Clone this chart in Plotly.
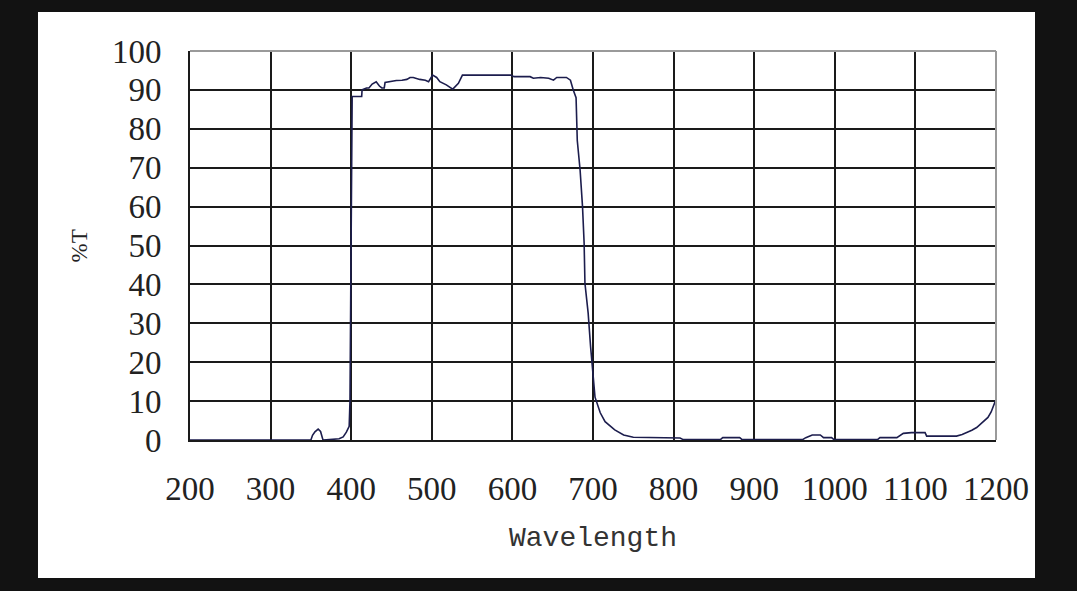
import plotly.graph_objects as go

# transmission curve
wavelength = [200, 350, 352, 355, 359, 362, 365, 385, 390, 394, 397.5, 398.5, 399.5, 400.5,
              401.2, 405, 413, 413.5, 419, 422, 426, 431, 435, 438, 441, 442, 449, 456, 463,
              469, 473, 477, 485, 492, 496, 499, 501, 506, 510, 518, 526, 533, 538, 598, 602,
              622, 626, 635, 645, 651, 655, 667, 672, 675.5, 679, 680.5, 684, 687, 689, 690,
              694, 697, 700, 702.5, 709, 715, 727, 738, 750, 780, 808, 812, 858, 861, 882,
              885, 960, 964, 972, 982, 986, 996, 999, 1053, 1056, 1077, 1080, 1085, 1095,
              1112, 1114, 1151, 1158, 1164, 1170, 1176, 1184, 1190, 1194, 1198, 1200]
transmittance = [0, 0, 1.2, 2.1, 2.8, 2.2, 0, 0.3, 0.8, 2.0, 3.5, 10, 40, 75,
                 88.3, 88.3, 88.3, 90, 90.5, 90.5, 91.5, 92.1, 91, 90.5, 90.5, 91.9, 92.2, 92.4, 92.5,
                 92.7, 93.2, 93.2, 92.7, 92.5, 92.1, 93.0, 93.8, 93.2, 92.1, 91.3, 90.2, 91.7, 93.8, 93.8, 93.4,
                 93.4, 93.0, 93.2, 93.0, 92.5, 93.2, 93.2, 92.5, 90, 88, 77, 69.4, 60, 50.6, 40.3,
                 32.6, 24, 17, 11, 7, 4.7, 2.6, 1.3, 0.7, 0.5, 0.5, 0.1, 0.1, 0.6, 0.6,
                 0.1, 0.1, 0.6, 1.3, 1.3, 0.6, 0.6, 0.1, 0.1, 0.6, 0.6, 1.0, 1.7, 1.9,
                 1.9, 1.0, 1.0, 1.4, 1.9, 2.5, 3.2, 4.6, 5.8, 7.2, 9.3, 10.5]

x_ticks = list(range(200, 1201, 100))
y_ticks = list(range(0, 101, 10))

tick_font = dict(family="Liberation Serif", size=33, color="#222222")

fig = go.Figure()
fig.add_trace(go.Scatter(
    x=wavelength, y=transmittance, mode="lines",
    line=dict(color="#1c1d4d", width=1.6),
    hoverinfo="x+y", showlegend=False,
))

# white card on the dark page
fig.add_shape(type="rect", xref="paper", yref="paper",
              x0=-0.1886, x1=1.0484, y0=-0.3548, y1=1.1003,
              fillcolor="white", line_width=0, layer="below")
# light grey top / right frame
fig.add_shape(type="line", xref="paper", yref="paper", x0=0, x1=1, y0=1, y1=1,
              line=dict(color="#9a9a9a", width=2), layer="above")
fig.add_shape(type="line", xref="paper", yref="paper", x0=1, x1=1, y0=0, y1=1,
              line=dict(color="#9a9a9a", width=2), layer="above")

fig.add_annotation(text="Wavelength", xref="paper", yref="paper", x=0.5, y=-0.252,
                   xanchor="center", yanchor="middle", showarrow=False,
                   font=dict(family="Liberation Mono", size=28, color="#333333"))
fig.add_annotation(text="%T", xref="paper", yref="paper", x=-0.1365, y=0.5, textangle=-90,
                   xanchor="center", yanchor="middle", showarrow=False,
                   font=dict(family="Liberation Serif", size=23, color="#222222"))

fig.update_xaxes(range=[200, 1200], tickvals=x_ticks, tickfont=tick_font,
                 showgrid=True, gridcolor="#1a1a1a", gridwidth=2,
                 showline=True, linecolor="#1a1a1a", linewidth=2,
                 zeroline=False, ticks="", ticklabelstandoff=18, fixedrange=True)
fig.update_yaxes(range=[0, 100], tickvals=y_ticks, tickfont=tick_font,
                 showgrid=True, gridcolor="#1a1a1a", gridwidth=2,
                 showline=True, linecolor="#1a1a1a", linewidth=2,
                 zeroline=False, ticks="", ticklabelstandoff=20, fixedrange=True)

fig.update_layout(
    width=1077, height=591,
    margin=dict(l=190, r=81, t=51, b=151),
    paper_bgcolor="#121212", plot_bgcolor="white",
)

fig.write_html("out.html", config={"displayModeBar": False},
               post_script="document.body.style.margin='0';document.body.style.background='#121212';")
